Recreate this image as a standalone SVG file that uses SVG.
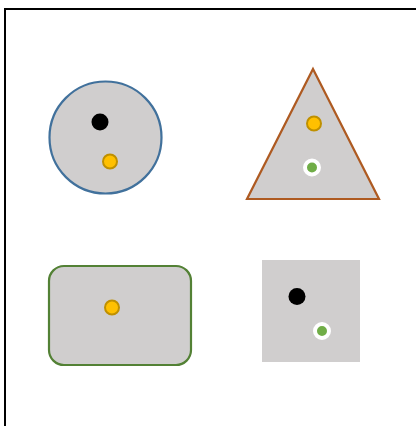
<svg xmlns="http://www.w3.org/2000/svg" width="416" height="426" viewBox="0 0 416 426">
<style>
.shape{fill:#d0cece;stroke-width:2.2}
.y{fill:#ffc000;stroke:#bf9000;stroke-width:2}
.g{fill:#70ad47;stroke:#ffffff;stroke-width:4}
.k{fill:#000000}
</style>
<rect x="0" y="0" width="416" height="426" fill="#ffffff"/>
<rect x="5" y="9" width="420" height="430" fill="none" stroke="#000000" stroke-width="2"/>
<g id="circle">
<circle class="shape" cx="105.5" cy="137.5" r="56" stroke="#41719c"/>
<circle class="k" cx="100" cy="122" r="8.5"/>
<circle class="y" cx="110" cy="161.5" r="7"/>
</g>
<g id="triangle">
<polygon class="shape" points="313,69 379,199 247,199" stroke="#ae5a21"/>
<circle class="y" cx="314" cy="123.5" r="7"/>
<circle class="g" cx="312" cy="167.5" r="7"/>
</g>
<g id="roundrect">
<rect class="shape" x="49" y="266" width="142" height="99" rx="15" stroke="#538135"/>
<circle class="y" cx="112" cy="307.5" r="7"/>
</g>
<g id="square">
<rect x="262" y="260" width="98" height="102" fill="#d0cece"/>
<circle class="k" cx="297" cy="296.5" r="8.5"/>
<circle class="g" cx="322" cy="331" r="7"/>
</g>
<g id="connectors"></g>
</svg>
